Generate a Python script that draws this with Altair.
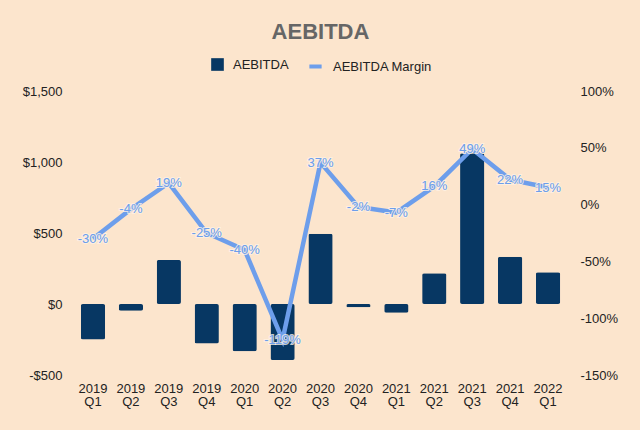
import altair as alt
import pandas as pd

quarters = ["2019 Q1", "2019 Q2", "2019 Q3", "2019 Q4", "2020 Q1", "2020 Q2", "2020 Q3",
            "2020 Q4", "2021 Q1", "2021 Q2", "2021 Q3", "2021 Q4", "2022 Q1"]
aebitda = [-250, -47, 310, -279, -333, -394, 495, -23, -61, 216, 1061, 333, 223]
margin = [-30, -4, 19, -25, -40, -119, 37, -2, -7, 16, 49, 22, 15]

left_ticks = [-500, 0, 500, 1000, 1500]
right_ticks = [-150, -100, -50, 0, 50, 100]

df = pd.DataFrame({"Quarter": quarters, "AEBITDA": aebitda, "Margin": margin})
df["s1"] = "AEBITDA"
df["s2"] = "AEBITDA Margin"
df["lbl"] = [f"{m}%" for m in margin]

FONT = "Liberation Sans"
BAR = "#073763"
LINE = "#6D9EEB"
BG = "#FCE5CD"

x = alt.X("Quarter:N", sort=quarters, title=None,
          scale=alt.Scale(paddingInner=0.36, paddingOuter=0.18),
          axis=alt.Axis(labelAngle=0, labelExpr="split(datum.label, ' ')",
                        labelPadding=7, labelLineHeight=13.5, labelFontSize=13,
                        domain=False, ticks=False, labelColor="#222"))

bars = alt.Chart(df).mark_bar(cornerRadius=2, color=BAR).encode(
    x=x,
    y=alt.Y("AEBITDA:Q", title=None,
            scale=alt.Scale(domain=[-500, 1500], nice=False, zero=False),
            axis=alt.Axis(values=left_ticks, grid=False, domain=False, ticks=False,
                          labelPadding=12, labelFontSize=13, labelColor="#222",
                          labelExpr="datum.value < 0 ? '-$' + format(abs(datum.value), ',') : '$' + format(datum.value, ',')")),
    color=alt.Color("s1:N", scale=alt.Scale(domain=["AEBITDA"], range=[BAR]),
                    legend=alt.Legend(title=None, orient="none", legendX=137, legendY=-33,
                                      symbolType="square", symbolSize=160, labelFontSize=13,
                                      labelOffset=9, labelColor="#222",
                                      symbolStrokeWidth=0, symbolOpacity=1)),
)

yr = alt.Y("Margin:Q", title=None,
           scale=alt.Scale(domain=[-150, 100], nice=False, zero=False),
           axis=alt.Axis(values=right_ticks, orient="right", grid=False, domain=False, ticks=False,
                         labelPadding=13, labelFontSize=13, labelColor="#222",
                         labelExpr="datum.value + '%'"))

line = alt.Chart(df).mark_line(strokeWidth=4.5).encode(
    x=x,
    y=yr,
    color=alt.Color("s2:N", scale=alt.Scale(domain=["AEBITDA Margin"], range=[LINE]),
                    legend=alt.Legend(title=None, orient="none", legendX=233, legendY=-33,
                                      symbolType="stroke", symbolSize=150, symbolStrokeWidth=4,
                                      labelFontSize=13, labelOffset=9, labelColor="#222")),
)

halo = alt.Chart(df).mark_text(fontSize=13, color=LINE, font=FONT, baseline="middle",
                               stroke="#FFF3E6", strokeWidth=2, strokeOpacity=0.8).encode(
    x=x, y=yr, text="lbl:N",
)

labels = alt.Chart(df).mark_text(fontSize=13, color=LINE, font=FONT, baseline="middle").encode(
    x=x, y=yr, text="lbl:N",
)

right = alt.layer(line, halo, labels)

chart = alt.layer(bars, right).resolve_scale(y="independent", color="independent").properties(
    width=493, height=284,
    autosize=alt.AutoSizeParams(type="none"),
    padding={"left": 74, "top": 91, "right": 73, "bottom": 55},
    background=BG,
    title=alt.TitleParams("AEBITDA", fontSize=22, fontWeight="bold", color="#666666",
                          font=FONT, anchor="middle", offset=14),
).configure(font=FONT).configure_view(stroke=None)

chart.save("out.html", embed_options={"renderer": "svg", "actions": False})
